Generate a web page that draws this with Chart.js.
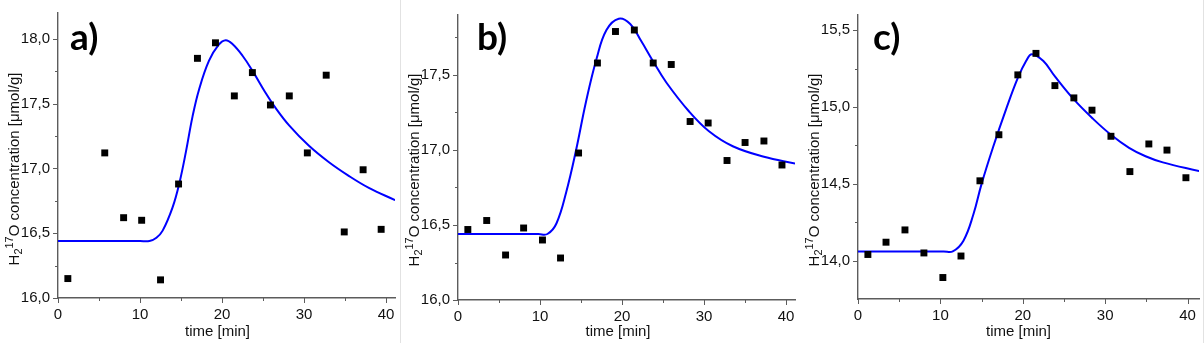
<!DOCTYPE html>
<html><head><meta charset="utf-8">
<script src="https://cdn.jsdelivr.net/npm/chart.js@4.4.0/dist/chart.umd.min.js"></script>
<style>
html,body{margin:0;padding:0;background:#fff;}
#wrap{position:relative;width:1204px;height:343px;overflow:hidden;background:#fff;}
.panel{position:absolute;top:0;height:343px;}
.sep{position:absolute;top:0;width:1px;height:343px;background:#e2e2e2;}
</style></head><body>
<div id="wrap">
  <div class="panel" style="left:0;width:400px"><canvas id="ca" width="400" height="343"></canvas></div>
  <div class="panel" style="left:400px;width:400px"><canvas id="cb" width="400" height="343"></canvas></div>
  <div class="panel" style="left:800px;width:404px"><canvas id="cc" width="404" height="343"></canvas></div>
  <div class="sep" style="left:400px"></div>
  <div class="sep" style="left:1203px"></div>
</div>
<script>
// ---- data ----
const timeA = [1.2, 5.7, 8.0, 10.2, 12.5, 14.7, 17.0, 19.2, 21.5, 23.7, 25.9, 28.2, 30.4, 32.7, 34.9, 37.2, 39.4];
const concA = [16.15, 17.12, 16.62, 16.60, 16.14, 16.88, 17.85, 17.97, 17.56, 17.74, 17.49, 17.56, 17.12, 17.72, 16.51, 16.99, 16.53];
const fitTimeA = [0, 10.0, 11.15, 12.0, 12.76, 13.97, 14.79, 15.6, 16.4, 17.2, 18.4, 19.6, 20.45, 21.27, 22.5, 23.7, 25.3, 26.5, 28.15, 30.6, 33.0, 35.4, 37.9, 41.1];
const fitConcA = [16.44, 16.44, 16.44, 16.465, 16.52, 16.70, 16.885, 17.13, 17.40, 17.61, 17.83, 17.955, 17.99, 17.96, 17.87, 17.755, 17.585, 17.47, 17.335, 17.175, 17.05, 16.945, 16.85, 16.755];

const timeB = [1.2, 3.5, 5.8, 8.0, 10.3, 12.5, 14.7, 17.0, 19.2, 21.5, 23.8, 26.0, 28.3, 30.5, 32.8, 35.0, 37.3, 39.5];
const concB = [16.47, 16.53, 16.30, 16.48, 16.40, 16.28, 16.98, 17.58, 17.79, 17.80, 17.58, 17.57, 17.19, 17.18, 16.93, 17.05, 17.06, 16.90];
const fitTimeB = [0, 9.8, 10.9, 12.0, 13.2, 14.4, 15.6, 16.9, 18.1, 19.6, 21.0, 22.3, 23.8, 25.4, 28.2, 30.6, 33.5, 37.3, 41.1];
const fitConcB = [16.44, 16.44, 16.44, 16.51, 16.72, 17.00, 17.32, 17.61, 17.80, 17.875, 17.84, 17.73, 17.59, 17.45, 17.255, 17.125, 17.025, 16.955, 16.91];

const timeC = [1.2, 3.4, 5.7, 8.0, 10.3, 12.5, 14.8, 17.1, 19.4, 21.6, 23.9, 26.2, 28.4, 30.7, 33.0, 35.3, 37.5, 39.8];
const concC = [14.04, 14.12, 14.20, 14.05, 13.89, 14.03, 14.52, 14.82, 15.21, 15.35, 15.14, 15.06, 14.98, 14.81, 14.58, 14.76, 14.72, 14.54];
const fitTimeC = [0, 10.4, 11.5, 12.8, 14.0, 15.0, 16.4, 18.0, 19.4, 20.4, 21.1, 22.5, 23.9, 26.2, 28.5, 30.7, 32.9, 34.9, 37.0, 41.4];
const fitConcC = [14.06, 14.06, 14.06, 14.13, 14.30, 14.50, 14.74, 14.99, 15.19, 15.30, 15.345, 15.30, 15.20, 15.05, 14.925, 14.82, 14.735, 14.68, 14.64, 14.583];

// ---- tick labels ----
const xTickValues = [0, 10, 20, 30, 40];
const xMinorTicks = [5, 15, 25, 35];
const yTicksA = [16.0, 16.5, 17.0, 17.5, 18.0];
const yMinorA = [16.25, 16.75, 17.25, 17.75];
const yTicksB = [16.0, 16.5, 17.0, 17.5];
const yMinorB = [16.25, 16.75, 17.25, 17.75];
const yTicksC = [14.0, 14.5, 15.0, 15.5];
const yMinorC = [14.25, 14.75, 15.25];
const panelLabels = ['a)', 'b)', 'c)'];
const xTitle = 'time [min]';
const yTitleParts = ['H', '2', '17', 'O concentration [\u03bcmol/g]'];

const AXIS = '#5c5c5c';
const FONT = '"Liberation Sans", Arial, sans-serif';

const decor = {
  id: 'decor',
  afterDraw(chart, args, o) {
    const ctx = chart.ctx, xs = chart.scales.x, ys = chart.scales.y, ca = chart.chartArea;
    ctx.save();
    ctx.strokeStyle = AXIS; ctx.lineWidth = 1;
    ctx.beginPath();
    for (const v of o.xMajor) { const p = Math.round(xs.getPixelForValue(v)) + 0.5; ctx.moveTo(p, ca.bottom); ctx.lineTo(p, ca.bottom + 5); }
    for (const v of o.xMinor) { const p = Math.round(xs.getPixelForValue(v)) + 0.5; ctx.moveTo(p, ca.bottom); ctx.lineTo(p, ca.bottom + 3); }
    for (const v of o.yMajor) { const p = Math.round(ys.getPixelForValue(v)) + 0.5; ctx.moveTo(ca.left, p); ctx.lineTo(ca.left - 5, p); }
    for (const v of o.yMinor) { const p = Math.round(ys.getPixelForValue(v)) + 0.5; ctx.moveTo(ca.left, p); ctx.lineTo(ca.left - 3, p); }
    ctx.stroke();
    ctx.fillStyle = '#111';
    ctx.font = '15px ' + FONT; ctx.textAlign = 'center'; ctx.textBaseline = 'alphabetic';
    ctx.fillText(xTitle, o.xTitleX, 336);
    ctx.save();
    ctx.translate(18.5, o.yTitleY);
    ctx.rotate(-Math.PI / 2);
    ctx.textAlign = 'left';
    const parts = [
      { t: yTitleParts[0], f: '15px ' + FONT, dy: 0 },
      { t: yTitleParts[1], f: '11px ' + FONT, dy: 3 },
      { t: yTitleParts[2], f: '11px ' + FONT, dy: -6 },
      { t: yTitleParts[3], f: '15px ' + FONT, dy: 0 }
    ];
    let total = 0;
    for (const p of parts) { ctx.font = p.f; p.w = ctx.measureText(p.t).width; total += p.w; }
    let cx = -total / 2;
    for (const p of parts) { ctx.font = p.f; ctx.fillText(p.t, cx, p.dy); cx += p.w; }
    ctx.restore();
    ctx.fillStyle = '#000';
    ctx.font = 'bold 37px Lato, "Open Sans", sans-serif';
    ctx.textAlign = 'left'; ctx.textBaseline = 'alphabetic';
    ctx.fillText(o.label, o.labelX, o.labelY);
    ctx.restore();
  }
};

function pts(xs, ys) { return xs.map((x, i) => ({ x: x, y: ys[i] })); }

function makeChart(id, cfg) {
  new Chart(document.getElementById(id), {
    type: 'scatter',
    data: {
      datasets: [
        { data: pts(cfg.t, cfg.c), pointStyle: 'rect', pointRadius: 4.9, pointHoverRadius: 4.9,
          backgroundColor: '#000', borderColor: '#000', borderWidth: 0, order: 0 },
        { data: pts(cfg.ft, cfg.fc), showLine: true, pointRadius: 0, borderColor: '#0000ff',
          borderWidth: 2, tension: 0.4, fill: false, order: 1 }
      ]
    },
    options: {
      responsive: false, animation: false,
      layout: { padding: { top: cfg.top, right: cfg.right, left: 0, bottom: 0 } },
      plugins: { legend: { display: false }, tooltip: { enabled: false }, decor: cfg.decor },
      scales: {
        x: {
          type: 'linear', min: 0, max: cfg.xmax,
          afterBuildTicks: s => { s.ticks = xTickValues.map(v => ({ value: v })); },
          afterFit: s => { s.height = 343 - cfg.bottom; s.paddingLeft = 0; s.paddingRight = 0; },
          ticks: { maxRotation: 0, autoSkip: false, padding: 3, color: '#111', font: { family: FONT, size: 15 },
                   callback: v => String(v) },
          grid: { drawOnChartArea: false, tickLength: 5, tickColor: 'rgba(0,0,0,0)', color: 'rgba(0,0,0,0)' },
          border: { display: true, color: AXIS, width: 1.4 }
        },
        y: {
          type: 'linear', min: cfg.ymin, max: cfg.ymax,
          afterBuildTicks: s => { s.ticks = cfg.yTicks.map(v => ({ value: v })); },
          afterFit: s => { s.width = 58; s.paddingTop = 0; s.paddingBottom = 0; },
          ticks: { autoSkip: false, padding: 3, color: '#111', font: { family: FONT, size: 15 },
                   callback: v => Number(v).toFixed(1).replace('.', ',') },
          grid: { drawOnChartArea: false, tickLength: 5, tickColor: 'rgba(0,0,0,0)', color: 'rgba(0,0,0,0)' },
          border: { display: true, color: AXIS, width: 1.4 }
        }
      }
    },
    plugins: [decor]
  });
}

makeChart('ca', { t: timeA, c: concA, ft: fitTimeA, fc: fitConcA, xmax: 41.1, ymin: 16.0, ymax: 18.2,
  yTicks: yTicksA, top: 13, right: 4, bottom: 298,
  decor: { xMajor: xTickValues, xMinor: xMinorTicks, yMajor: yTicksA, yMinor: yMinorA,
           xTitleX: 217.5, yTitleY: 169, label: panelLabels[0], labelX: 70, labelY: 49.5 } });
makeChart('cb', { t: timeB, c: concB, ft: fitTimeB, fc: fitConcB, xmax: 41.1, ymin: 16.0, ymax: 17.9,
  yTicks: yTicksB, top: 15, right: 4, bottom: 300,
  decor: { xMajor: xTickValues, xMinor: xMinorTicks, yMajor: yTicksB, yMinor: yMinorB,
           xTitleX: 218, yTitleY: 170, label: panelLabels[1], labelX: 77, labelY: 49.5 } });
makeChart('cc', { t: timeC, c: concC, ft: fitTimeC, fc: fitConcC, xmax: 41.4, ymin: 13.75, ymax: 15.6,
  yTicks: yTicksC, top: 15, right: 4, bottom: 299,
  decor: { xMajor: xTickValues, xMinor: xMinorTicks, yMajor: yTicksC, yMinor: yMinorC,
           xTitleX: 218.5, yTitleY: 170, label: panelLabels[2], labelX: 73, labelY: 50 } });
</script>
</body></html>
